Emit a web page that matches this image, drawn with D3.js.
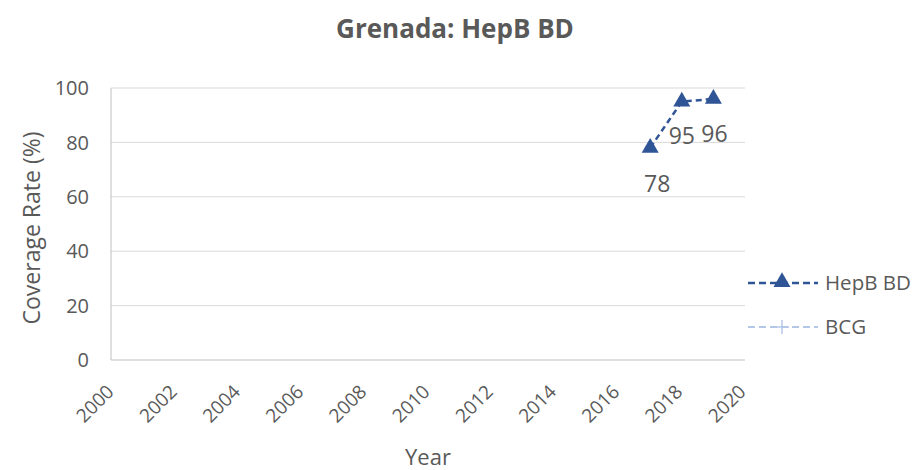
<!DOCTYPE html>
<html><head><meta charset="utf-8">
<script src="https://cdn.jsdelivr.net/npm/d3@7"></script>
<style>body{margin:0;background:#fff}svg{display:block}text{font-family:"Open Sans",sans-serif;fill:#595959}</style>
</head><body><svg id="c" width="914" height="470"></svg>
<script>
const years = [2017, 2018, 2019];
const hepbValues = [78, 95, 96];
const bcgValues = [];
const xTicks = [2000,2002,2004,2006,2008,2010,2012,2014,2016,2018,2020];
const yTicks = [0,20,40,60,80,100];
const labelOffsets = [[7,36],[0,34],[1,35]];

const svg = d3.select("#c");
const x = d3.scaleLinear().domain([2000,2020]).range([113,745]);
const y = d3.scaleLinear().domain([0,100]).range([360,88]);
const gridLeft = 111, gridRight = 745;

svg.append("g").selectAll("line").data(yTicks.filter(d=>d>0)).join("line")
  .attr("x1",gridLeft).attr("x2",gridRight).attr("y1",d=>y(d)).attr("y2",d=>y(d))
  .attr("stroke","#d9d9d9").attr("stroke-width",1);
svg.append("line").attr("x1",gridLeft).attr("x2",gridLeft).attr("y1",y(100)).attr("y2",y(0)).attr("stroke","#bfbfbf");
svg.append("line").attr("x1",gridLeft).attr("x2",gridRight).attr("y1",y(0)).attr("y2",y(0)).attr("stroke","#bfbfbf");

svg.append("g").selectAll("text").data(yTicks).join("text")
  .attr("x",89).attr("y",d=>y(d)).attr("dy","0.36em").attr("text-anchor","end")
  .style("font-size","20px").text(d=>d);
svg.append("g").selectAll("text").data(xTicks).join("text")
  .attr("transform",d=>`translate(${x(d)+2},${y(0)+33}) rotate(-45)`)
  .attr("text-anchor","end")
  .style("font-size","19px").text(d=>d);

svg.append("text").attr("x",455).attr("y",38).attr("text-anchor","middle")
  .style("font-size","26px").style("font-weight","bold").text("Grenada: HepB BD");
svg.append("text").attr("x",428).attr("y",465).attr("text-anchor","middle").style("font-size","22px").text("Year");
svg.append("text").attr("transform","translate(40,228) rotate(-90)").attr("text-anchor","middle").style("font-size","23px").text("Coverage Rate (%)");

const blue = "#2F5597", light = "#B4C7E7";
const pts = years.map((yr,i)=>({yr,v:hepbValues[i]}));
const line = d3.line().x(d=>x(d.yr)).y(d=>y(d.v));
svg.append("path").datum(pts).attr("d",line).attr("fill","none")
  .attr("stroke",blue).attr("stroke-width",2.5).attr("stroke-dasharray","6,4");
const tri = d3.symbol().type(d3.symbolTriangle).size(125);
svg.append("g").selectAll("path").data(pts).join("path")
  .attr("d",tri).attr("transform",d=>`translate(${x(d.yr)},${y(d.v)})`).attr("fill",blue);
svg.append("g").selectAll("text").data(pts).join("text")
  .attr("x",(d,i)=>x(d.yr)+labelOffsets[i][0]).attr("y",(d,i)=>y(d.v)+labelOffsets[i][1])
  .attr("text-anchor","middle").attr("dy","0.36em").style("font-size","23px").text(d=>d.v);

const lg = svg.append("g");
lg.append("line").attr("x1",748).attr("x2",818).attr("y1",283).attr("y2",283)
  .attr("stroke",blue).attr("stroke-width",2.5).attr("stroke-dasharray","7,4");
lg.append("path").attr("d",tri).attr("transform","translate(782,282)").attr("fill",blue);
lg.append("text").attr("x",825).attr("y",283).attr("dy","0.36em").style("font-size","20.5px").text("HepB BD");
lg.append("line").attr("x1",748).attr("x2",818).attr("y1",327).attr("y2",327)
  .attr("stroke",light).attr("stroke-width",2).attr("stroke-dasharray","7,4");
lg.append("line").attr("x1",782).attr("x2",782).attr("y1",320).attr("y2",334).attr("stroke",light).attr("stroke-width",1.5);
lg.append("line").attr("x1",775).attr("x2",789).attr("y1",327).attr("y2",327).attr("stroke",light).attr("stroke-width",1.5);
lg.append("text").attr("x",825).attr("y",327).attr("dy","0.36em").style("font-size","20.5px").text("BCG");
</script></body></html>
